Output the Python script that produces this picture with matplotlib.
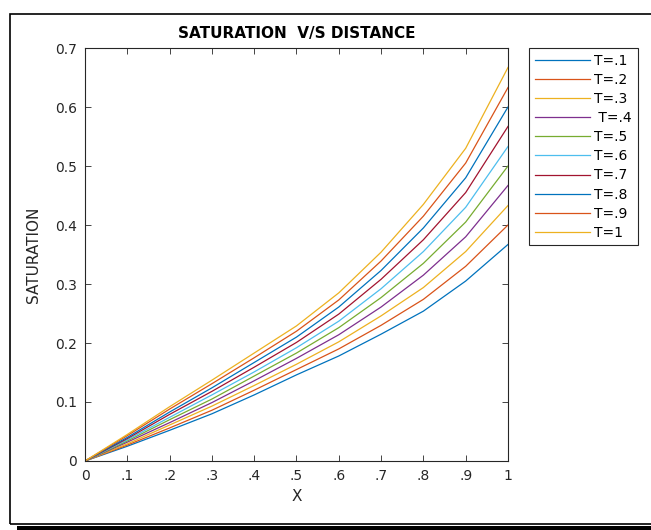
import numpy as np
import matplotlib.pyplot as plt
from matplotlib.patches import Rectangle

# distance along the column
x = [0, .1, .2, .3, .4, .5, .6, .7, .8, .9, 1]

# saturation profiles for each time level
s_t01 = [0, 0.025, 0.052, 0.080, 0.112, 0.146, 0.178, 0.215, 0.254, 0.305, 0.367]
s_t02 = [0, 0.027, 0.056, 0.086, 0.120, 0.155, 0.190, 0.230, 0.274, 0.330, 0.400]
s_t03 = [0, 0.029, 0.061, 0.093, 0.128, 0.164, 0.202, 0.246, 0.294, 0.355, 0.433]
s_t04 = [0, 0.032, 0.065, 0.099, 0.136, 0.174, 0.214, 0.261, 0.315, 0.380, 0.467]
s_t05 = [0, 0.034, 0.070, 0.105, 0.144, 0.183, 0.226, 0.277, 0.335, 0.405, 0.500]
s_t06 = [0, 0.036, 0.074, 0.112, 0.151, 0.192, 0.237, 0.292, 0.355, 0.430, 0.533]
s_t07 = [0, 0.038, 0.079, 0.118, 0.159, 0.201, 0.249, 0.308, 0.375, 0.455, 0.567]
s_t08 = [0, 0.040, 0.083, 0.124, 0.167, 0.210, 0.261, 0.323, 0.395, 0.480, 0.600]
s_t09 = [0, 0.043, 0.088, 0.131, 0.175, 0.220, 0.273, 0.339, 0.415, 0.505, 0.633]
s_t10 = [0, 0.045, 0.092, 0.137, 0.183, 0.229, 0.285, 0.354, 0.435, 0.530, 0.667]

labels = ["T=.1", "T=.2", "T=.3", " T=.4", "T=.5", "T=.6", "T=.7", "T=.8", "T=.9", "T=1"]
series = [s_t01, s_t02, s_t03, s_t04, s_t05, s_t06, s_t07, s_t08, s_t09, s_t10]

xticks = [0, .1, .2, .3, .4, .5, .6, .7, .8, .9, 1]
xticklabels = ["0", ".1", ".2", ".3", ".4", ".5", ".6", ".7", ".8", ".9", "1"]
yticks = [0, 0.1, 0.2, 0.3, 0.4, 0.5, 0.6, 0.7]
yticklabels = ["0", "0.1", "0.2", "0.3", "0.4", "0.5", "0.6", "0.7"]

# MATLAB default colour order
colors = ["#0072BD", "#D95319", "#EDB120", "#7E2F8E", "#77AC30",
          "#4DBEEE", "#A2142F", "#0072BD", "#D95319", "#EDB120"]

plt.rcParams["font.family"] = ["DejaVu Sans"]
gray = "#262626"

fig = plt.figure(figsize=(6.51, 5.30), dpi=100)
ax = fig.add_axes([0.1306, 0.1302, 0.6497, 0.7792])

for s, c, lab in zip(series, colors, labels):
    ax.plot(x, s, color=c, linewidth=0.9, label=lab)

ax.set_xlim(0, 1)
ax.set_ylim(0, 0.7)
ax.set_xticks(xticks)
ax.set_xticklabels(xticklabels)
ax.set_yticks(yticks)
ax.set_yticklabels(yticklabels)
ax.tick_params(direction="in", top=True, right=True, length=4, width=0.6,
               labelsize=10, colors=gray, labelcolor=gray, pad=6)
for sp in ax.spines.values():
    sp.set_linewidth(0.8)
    sp.set_color(gray)

ax.set_title("SATURATION  V/S DISTANCE", fontsize=11, fontweight="bold",
             color="black", pad=7)
ax.set_xlabel("X", fontsize=11, color=gray, labelpad=4)
ax.set_ylabel("SATURATION", fontsize=11, color=gray, labelpad=10)

leg = ax.legend(loc="upper left", bbox_to_anchor=(1.05, 1.0), fontsize=10,
                handlelength=4.0, handletextpad=0.3, labelspacing=0.37,
                borderpad=0.4, borderaxespad=0, fancybox=False,
                framealpha=1, edgecolor=gray)
leg.get_frame().set_linewidth(0.8)

# screenshot frame with drop shadow
fig.add_artist(Rectangle((10 / 651, 6 / 530), 1.2, 1 - 20 / 530,
                         transform=fig.transFigure, fill=False,
                         edgecolor="black", linewidth=1.2))
fig.add_artist(Rectangle((17 / 651, 0), 1.0, 4.5 / 530,
                         transform=fig.transFigure, facecolor="black",
                         edgecolor="none"))

fig.savefig("out.png", dpi=100)
